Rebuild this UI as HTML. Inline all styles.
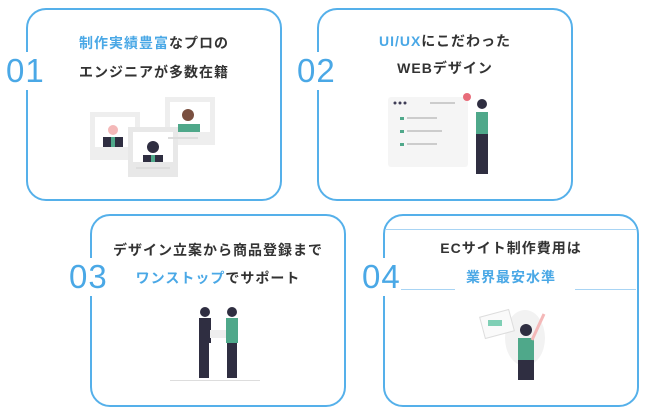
<!DOCTYPE html>
<html><head><meta charset="utf-8"><style>
body{margin:0;width:650px;height:419px;background:#fff;position:relative;overflow:hidden;font-family:"Liberation Sans","Noto Sans CJK JP",sans-serif}
.box{position:absolute;border:2.5px solid #55b0ea;border-radius:20px;box-sizing:border-box;width:256px;height:193px}
.num{position:absolute;font-size:33px;color:#4aa8e6;background:#fff;line-height:34px;padding:2px 0;font-weight:300;letter-spacing:1px}
.t{position:absolute;width:256px;text-align:center;font-size:14px;font-weight:bold;color:#333;letter-spacing:1px}
.b{color:#4aa8e6}
.ill{position:absolute}
</style></head><body>
<div class="box" style="left:26px;top:8px"></div>
<div class="box" style="left:317px;top:8px"></div>
<div class="box" style="left:90px;top:214px"></div>
<div class="box" style="left:383px;top:214px"></div>
<div style="position:absolute;left:385px;top:229px;width:251px;height:1px;background:#a8d4f4"></div>
<div style="position:absolute;left:385px;top:289px;width:70px;height:1px;background:#a8d4f4"></div>
<div style="position:absolute;left:575px;top:289px;width:61px;height:1px;background:#a8d4f4"></div>

<div class="num" style="left:6px;top:52px">01</div>
<div class="num" style="left:297px;top:52px">02</div>
<div class="num" style="left:69px;top:258px">03</div>
<div class="num" style="left:362px;top:258px">04</div>

<div class="t" style="left:26px;top:33px"><span class="b">制作実績豊富</span>なプロの</div>
<div class="t" style="left:26px;top:62px">エンジニアが多数在籍</div>
<div class="t" style="left:317px;top:31px"><span class="b">UI/UX</span>にこだわった</div>
<div class="t" style="left:317px;top:58px">WEBデザイン</div>
<div class="t" style="left:90px;top:240px">デザイン立案から商品登録まで</div>
<div class="t" style="left:90px;top:268px"><span class="b">ワンストップ</span>でサポート</div>
<div class="t" style="left:383px;top:238px">ECサイト制作費用は</div>
<div class="t" style="left:383px;top:267px"><span class="b">業界最安水準</span></div>

<svg class="ill" style="left:88px;top:95px" width="130" height="85">
<rect x="2" y="17" width="50" height="48" fill="#eee"/><rect x="7" y="22" width="40" height="30" fill="#fff"/>
<rect x="77" y="2" width="50" height="48" fill="#eee"/><rect x="82" y="7" width="40" height="30" fill="#fff"/>
<rect x="40" y="32" width="50" height="50" fill="#e8e8e8"/><rect x="45" y="37" width="40" height="30" fill="#fff"/>
<circle cx="25" cy="35" r="5" fill="#f4b8b8"/><rect x="15" y="42" width="20" height="10" fill="#2f2e41"/><rect x="23" y="42" width="4" height="10" fill="#4fa88a"/>
<circle cx="100" cy="20" r="6" fill="#7a5040"/><rect x="90" y="29" width="22" height="8" fill="#4fa88a"/>
<circle cx="65" cy="52" r="6" fill="#2f2e41"/><rect x="55" y="60" width="20" height="7" fill="#2f2e41"/><rect x="63" y="60" width="4" height="7" fill="#4fa88a"/>
<rect x="48" y="72" width="34" height="2" fill="#ddd"/><rect x="80" y="42" width="30" height="2" fill="#ddd"/>
</svg>

<svg class="ill" style="left:385px;top:92px" width="115" height="88">
<rect x="3" y="5" width="80" height="70" rx="3" fill="#f5f5f5"/>
<circle cx="10" cy="11" r="1.5" fill="#3f3d56"/><circle cx="15" cy="11" r="1.5" fill="#3f3d56"/><circle cx="20" cy="11" r="1.5" fill="#3f3d56"/>
<rect x="45" y="10" width="25" height="2" fill="#ccc"/>
<circle cx="82" cy="5" r="4" fill="#e86c7a"/>
<rect x="15" y="25" width="4" height="3" fill="#4fa88a"/><rect x="22" y="25" width="30" height="2" fill="#ccc"/>
<rect x="15" y="38" width="4" height="3" fill="#4fa88a"/><rect x="22" y="38" width="35" height="2" fill="#ccc"/>
<rect x="15" y="51" width="4" height="3" fill="#4fa88a"/><rect x="22" y="51" width="30" height="2" fill="#ccc"/>
<circle cx="97" cy="12" r="5" fill="#2f2e41"/><rect x="91" y="20" width="12" height="22" fill="#4fa88a"/><rect x="91" y="42" width="12" height="40" fill="#2f2e41"/>
</svg>

<svg class="ill" style="left:170px;top:300px" width="90" height="85">
<circle cx="35" cy="12" r="5" fill="#2f2e41"/><rect x="29" y="18" width="12" height="25" fill="#2f2e41"/><rect x="29" y="43" width="10" height="35" fill="#2f2e41"/>
<circle cx="62" cy="12" r="5" fill="#2f2e41"/><rect x="56" y="18" width="12" height="25" fill="#4fa88a"/><rect x="57" y="43" width="10" height="35" fill="#2f2e41"/>
<rect x="40" y="30" width="16" height="8" fill="#eee"/>
<rect x="0" y="80" width="90" height="1" fill="#ddd"/>
</svg>

<svg class="ill" style="left:470px;top:298px" width="90" height="85">
<ellipse cx="55" cy="40" rx="20" ry="28" fill="#f2f2f2"/>
<rect x="12" y="15" width="30" height="22" transform="rotate(-15 27 26)" fill="#fafafa" stroke="#ddd"/>
<rect x="18" y="22" width="14" height="6" fill="#7fcfb5"/>
<circle cx="56" cy="32" r="6" fill="#2f2e41"/><rect x="48" y="40" width="16" height="22" fill="#4fa88a"/><rect x="48" y="62" width="16" height="20" fill="#2f2e41"/>
<line x1="62" y1="42" x2="74" y2="16" stroke="#f4b8b8" stroke-width="3"/>
</svg>
</body></html>
